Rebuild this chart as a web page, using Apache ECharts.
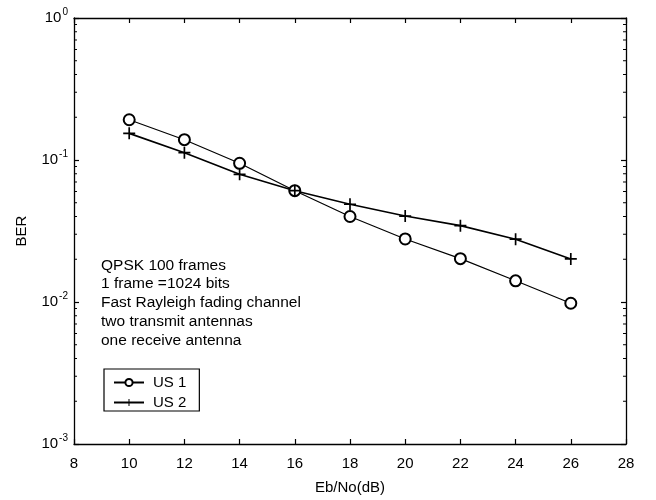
<!DOCTYPE html>
<html>
<head>
<meta charset="utf-8">
<script src="https://cdn.jsdelivr.net/npm/echarts@6/dist/echarts.min.js"></script>
<style>
  html, body { margin: 0; padding: 0; background: #fff; }
  #chart { width: 656px; height: 500px; }
</style>
</head>
<body>
<div id="chart"></div>
<script>
// Eb/No values (dB)
const ebno = [10, 12, 14, 16, 18, 20, 22, 24, 26];
// Bit error rate for each scheme
const berUS1 = [0.192, 0.139, 0.0948, 0.0608, 0.0400, 0.0278, 0.0202, 0.0141, 0.0098];
const berUS2 = [0.154, 0.1126, 0.0793, 0.0608, 0.0488, 0.0403, 0.0345, 0.0277, 0.0201];
const seriesNames = ['US 1', 'US 2'];
const noteLines = [
  'QPSK 100 frames',
  '1 frame =1024 bits',
  'Fast Rayleigh fading channel',
  'two transmit antennas',
  'one receive antenna'
];
const xTicks = [8, 10, 12, 14, 16, 18, 20, 22, 24, 26, 28];
const yDecades = [1e-3, 1e-2, 1e-1, 1];
// minor log ticks 2..9 in each decade
const minorMultipliers = [2, 3, 4, 5, 6, 7, 8, 9];

const FONT = '"Liberation Sans", Arial, Helvetica, sans-serif';
const minorVals = [];
for (let k = 0; k < yDecades.length - 1; k++) {
  minorMultipliers.forEach(m => minorVals.push([xTicks[0], m * yDecades[k]]));
}

const chart = echarts.init(document.getElementById('chart'));
const pair = (xs, ys) => xs.map((x, i) => [x, ys[i]]);
const plusPath = 'path://M0,4.3H4.3V0H5.7V4.3H10V5.7H5.7V10H4.3V5.7H0Z';

const axisCommon = {
  axisLine: { lineStyle: { color: '#000', width: 1.3 } },
  axisTick: { inside: true, length: 5, lineStyle: { color: '#000', width: 1.2 } },
  splitLine: { show: false }
};

chart.setOption({
  animation: false,
  backgroundColor: '#fff',
  grid: { left: 74, top: 18, right: 30, bottom: 56 },
  xAxis: [
    Object.assign({
      type: 'value', min: 8, max: 28, interval: 2, position: 'bottom',
      name: 'Eb/No(dB)', nameLocation: 'middle', nameGap: 36,
      nameTextStyle: { fontFamily: FONT, fontSize: 15, color: '#000' },
      axisLabel: { fontFamily: FONT, fontSize: 15, color: '#000', margin: 12 }
    }, axisCommon),
    Object.assign({
      type: 'value', min: 8, max: 28, interval: 2, position: 'top',
      axisLabel: { show: false }
    }, axisCommon)
  ],
  yAxis: [
    Object.assign({
      type: 'log', logBase: 10, min: 1e-3, max: 1, position: 'left',
      name: 'BER', nameLocation: 'middle', nameGap: 45, nameRotate: 90,
      nameTextStyle: { fontFamily: FONT, fontSize: 15, color: '#000' },
      axisLabel: {
        fontFamily: FONT, fontSize: 15, color: '#000', margin: 6,
        formatter: v => '10{s|' + Math.round(Math.log10(v)) + '}',
        rich: { s: { fontFamily: FONT, fontSize: 10, color: '#000', verticalAlign: 'top', padding: [0, 0, 12, 1] } }
      }
    }, axisCommon),
    Object.assign({
      type: 'log', logBase: 10, min: 1e-3, max: 1, position: 'right',
      axisLabel: { show: false }
    }, axisCommon)
  ],
  legend: {
    data: seriesNames,
    orient: 'vertical',
    left: 104, top: 369,
    itemWidth: 30, itemHeight: 9, itemGap: 5,
    padding: [6, 13, 1, 9],
    borderColor: '#000', borderWidth: 1.2,
    backgroundColor: '#fff',
    textStyle: { fontFamily: FONT, fontSize: 15, color: '#000', padding: [0, 0, 0, 4] }
  },
  graphic: [{
    type: 'text',
    left: 101, top: 256,
    style: {
      text: noteLines.join('\n'),
      font: '15.5px ' + FONT,
      fill: '#000',
      lineHeight: 18.8
    }
  }],
  series: [
    {
      name: seriesNames[0], type: 'line', data: pair(ebno, berUS1),
      symbol: 'emptyCircle', symbolSize: 11,
      lineStyle: { color: '#000', width: 1.2 },
      itemStyle: { color: '#000', borderColor: '#000', borderWidth: 1.2 },
      z: 3
    },
    {
      name: seriesNames[1], type: 'line', data: pair(ebno, berUS2),
      symbol: plusPath, symbolSize: 12,
      lineStyle: { color: '#000', width: 1.6 },
      itemStyle: { color: '#000', borderWidth: 0 },
      z: 3
    },
    {
      // minor ticks on the left and right log axes
      type: 'custom', silent: true, data: minorVals,
      renderItem: (params, api) => {
        const v = api.value(1);
        const l = api.coord([xTicks[0], v]);
        const r = api.coord([xTicks[xTicks.length - 1], v]);
        const st = { stroke: '#000', lineWidth: 1 };
        return {
          type: 'group',
          children: [
            { type: 'line', shape: { x1: l[0], y1: l[1], x2: l[0] + 3, y2: l[1] }, style: st },
            { type: 'line', shape: { x1: r[0], y1: r[1], x2: r[0] - 3, y2: r[1] }, style: st }
          ]
        };
      },
      z: 2
    }
  ]
});
</script>
</body>
</html>
